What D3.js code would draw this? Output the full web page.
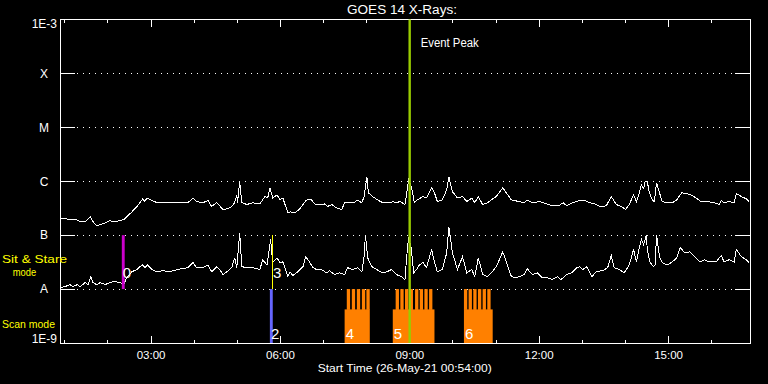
<!DOCTYPE html>
<html><head><meta charset="utf-8">
<script src="https://cdn.jsdelivr.net/npm/d3@7"></script>
<style>body{margin:0;background:#000}svg{display:block}</style>
</head><body><svg id="c" width="768" height="384"></svg>
<script>
// ---- DATA (times in minutes after 00:00 UT, 26-May-21; flux in W/m^2) ----
const startMin = 54, endMin = 1014;
const levelValues = [1e-9, 1e-8, 1e-7, 1e-6, 1e-5, 1e-4, 1e-3];
const levelLabels = ["1E-9", "A", "B", "C", "M", "X", "1E-3"];
const gridLevels = [1e-8, 1e-7, 1e-6, 1e-5, 1e-4];

const longSeries = [[54,2.1e-7],[68,1.94e-7],[75,2.0e-7],[82,1.78e-7],[89,1.78e-7],[96,2.2e-7],[98,1.94e-7],[101,1.70e-7],[105,1.50e-7],[110,1.56e-7],[117,1.70e-7],[123,1.86e-7],[130,1.78e-7],[137,1.86e-7],[143,1.94e-7],[147,2.2e-7],[154,2.7e-7],[161,3.4e-7],[165,4.0e-7],[169,4.7e-7],[172,4.2e-7],[175,4.9e-7],[182,4.4e-7],[189,4.0e-7],[197,4.0e-7],[207,4.0e-7],[217,4.0e-7],[225,4.0e-7],[232,4.0e-7],[239,4.9e-7],[244,4.2e-7],[253,4.0e-7],[260,4.4e-7],[265,3.4e-7],[272,4.0e-7],[276,3.5e-7],[281,3.0e-7],[288,3.1e-7],[293,3.4e-7],[297,4.0e-7],[300,5.6e-7],[301,4.0e-7],[304,9.8e-7],[307,4.0e-7],[314,3.7e-7],[322,4.0e-7],[332,3.8e-7],[339,5.2e-7],[343,4.9e-7],[346,7.6e-7],[350,4.9e-7],[356,5.6e-7],[360,4.5e-7],[364,4.9e-7],[371,2.6e-7],[374,2.7e-7],[381,2.6e-7],[388,3.1e-7],[395,4.2e-7],[399,4.7e-7],[404,4.5e-7],[408,3.8e-7],[415,3.7e-7],[422,3.8e-7],[426,3.4e-7],[432,3.7e-7],[439,3.2e-7],[446,3.0e-7],[450,4.0e-7],[457,4.0e-7],[464,4.0e-7],[467,4.5e-7],[474,4.0e-7],[477,5.2e-7],[481,1.21e-6],[483,6.1e-7],[489,5.2e-7],[496,4.5e-7],[503,4.0e-7],[513,4.0e-7],[517,4.2e-7],[522,4.0e-7],[527,4.2e-7],[534,3.7e-7],[536,5.6e-7],[539,1.07e-6],[543,7.9e-7],[547,4.0e-7],[551,4.5e-7],[559,5.2e-7],[564,4.9e-7],[571,7.6e-7],[575,6.1e-7],[579,4.2e-7],[586,4.5e-7],[592,7.0e-7],[595,1.21e-6],[600,6.4e-7],[607,4.9e-7],[614,5.2e-7],[620,4.2e-7],[627,4.9e-7],[631,4.0e-7],[636,5.2e-7],[642,3.7e-7],[649,4.0e-7],[654,4.5e-7],[661,5.2e-7],[670,7.6e-7],[675,6.1e-7],[682,4.5e-7],[693,4.2e-7],[700,4.0e-7],[704,4.5e-7],[711,4.0e-7],[721,4.2e-7],[731,3.8e-7],[739,3.5e-7],[748,3.5e-7],[754,4.0e-7],[759,3.5e-7],[767,4.0e-7],[777,4.4e-7],[784,4.4e-7],[791,4.0e-7],[798,3.8e-7],[805,3.4e-7],[814,3.5e-7],[821,5.2e-7],[828,3.7e-7],[835,3.4e-7],[841,3.0e-7],[846,3.7e-7],[852,5.6e-7],[856,4.2e-7],[860,6.1e-7],[863,8.6e-7],[866,7.3e-7],[868,9.8e-7],[871,1.0e-6],[874,6.1e-7],[878,4.5e-7],[881,4.2e-7],[884,9.4e-7],[888,6.1e-7],[892,4.2e-7],[899,4.0e-7],[906,4.0e-7],[912,4.5e-7],[919,6.1e-7],[925,5.9e-7],[932,5.6e-7],[939,4.9e-7],[946,4.2e-7],[955,4.2e-7],[964,4.0e-7],[971,3.7e-7],[974,4.4e-7],[978,4.0e-7],[985,4.2e-7],[992,4.0e-7],[995,5.9e-7],[1002,5.2e-7],[1009,4.7e-7],[1013,4.2e-7]];

const shortSeries = [[54,1.07e-8],[61,1.11e-8],[68,1.21e-8],[72,1.11e-8],[78,1.21e-8],[82,1.11e-8],[89,1.32e-8],[93,1.21e-8],[97,1.70e-8],[100,1.32e-8],[105,1.21e-8],[110,1.32e-8],[117,1.21e-8],[123,1.32e-8],[130,1.38e-8],[137,1.32e-8],[143,1.26e-8],[147,1.63e-8],[154,2.1e-8],[161,2.3e-8],[165,2.6e-8],[169,2.8e-8],[172,2.5e-8],[176,2.8e-8],[182,2.3e-8],[189,2.1e-8],[197,2.2e-8],[207,2.1e-8],[217,2.3e-8],[225,2.4e-8],[232,2.5e-8],[239,3.1e-8],[244,2.5e-8],[253,2.5e-8],[260,2.8e-8],[265,2.1e-8],[272,2.6e-8],[276,2.3e-8],[281,1.86e-8],[288,2.2e-8],[293,2.5e-8],[297,3.8e-8],[300,2.5e-8],[304,1.11e-7],[307,2.6e-8],[314,2.5e-8],[322,2.5e-8],[332,2.3e-8],[336,3.5e-8],[342,2.8e-8],[347,8.3e-8],[350,3.1e-8],[356,3.8e-8],[360,3.1e-8],[364,3.2e-8],[371,1.70e-8],[374,2.1e-8],[378,1.78e-8],[385,2.1e-8],[392,2.6e-8],[396,4.0e-8],[401,3.2e-8],[406,2.5e-8],[411,2.3e-8],[418,2.3e-8],[425,2.0e-8],[429,2.2e-8],[436,1.86e-8],[443,2.0e-8],[450,1.86e-8],[454,2.5e-8],[461,2.3e-8],[468,2.5e-8],[474,2.1e-8],[477,4.0e-8],[479,1.02e-7],[482,3.8e-8],[488,2.6e-8],[495,2.3e-8],[502,2.0e-8],[509,2.1e-8],[515,2.3e-8],[522,1.86e-8],[529,1.70e-8],[534,1.50e-8],[536,3.5e-8],[539,9.4e-8],[543,5.4e-8],[546,2.0e-8],[550,2.3e-8],[554,2.8e-8],[559,3.1e-8],[564,2.5e-8],[571,5.4e-8],[575,3.2e-8],[579,2.1e-8],[586,2.3e-8],[592,4.7e-8],[595,1.44e-7],[600,4.7e-8],[607,2.3e-8],[614,4.0e-8],[620,2.0e-8],[627,2.3e-8],[631,1.70e-8],[636,3.8e-8],[642,1.86e-8],[649,1.70e-8],[654,2.0e-8],[661,2.6e-8],[670,4.9e-8],[675,3.2e-8],[682,1.70e-8],[689,1.63e-8],[693,1.70e-8],[700,1.86e-8],[704,2.4e-8],[711,1.86e-8],[718,2.0e-8],[725,1.63e-8],[732,1.63e-8],[739,1.50e-8],[746,1.70e-8],[751,1.50e-8],[759,1.86e-8],[766,2.0e-8],[773,2.5e-8],[777,2.6e-8],[781,2.3e-8],[787,2.6e-8],[794,1.70e-8],[800,2.1e-8],[809,2.2e-8],[816,2.5e-8],[821,4.2e-8],[825,2.5e-8],[832,2.3e-8],[839,2.0e-8],[846,2.8e-8],[852,5.4e-8],[856,3.2e-8],[860,5.9e-8],[863,8.3e-8],[866,6.7e-8],[870,1.02e-7],[871,5.4e-8],[875,3.1e-8],[880,2.6e-8],[882,2.8e-8],[884,1.02e-7],[888,4.0e-8],[892,3.1e-8],[899,2.8e-8],[906,3.2e-8],[912,3.8e-8],[917,5.9e-8],[923,4.7e-8],[930,4.9e-8],[937,4.0e-8],[944,3.2e-8],[951,3.5e-8],[957,3.2e-8],[967,3.2e-8],[974,4.2e-8],[978,3.2e-8],[985,3.5e-8],[992,3.2e-8],[995,5.4e-8],[1002,4.0e-8],[1009,3.5e-8],[1013,3.1e-8]];

// Sit & stare observations (label, start, end minute)
const sitStareObs = [
  {label: "0", start: 140, end: 144, color: "#cc00cc"},
  {label: "3", start: 349, end: 349, color: "#ffff00"}
];
// Scan observations: base interval plus individual raster exposures (start minutes)
const scanObs = [
  {label: "2", start: 346, end: 350, color: "#6666ff", exposures: []},
  {label: "4", start: 450, end: 485, color: "#ff8000", exposures: [453, 460, 467, 474, 480.3]},
  {label: "5", start: 517, end: 575, color: "#ff8000", exposures: [521, 527.5, 534, 540.5, 548, 554.5, 561, 567.5]},
  {label: "6", start: 616, end: 656, color: "#ff8000", exposures: [616, 622.5, 629, 635.5, 642, 648.5]}
];
const exposureLength = 4.6;
const scanBaseTop = 4.2e-9;
const eventPeakMin = 540.5;
const titleText = "GOES 14 X-Rays:";
const xTitleText = "Start Time (26-May-21 00:54:00)";

// ---- CHART ----
const base = new Date(2021, 4, 26, 0, 0).getTime();
const t = m => new Date(base + m * 60000);
const svg = d3.select("#c");
const L = 60, R = 750, T = 19.5, B = 343;
const x = d3.scaleTime().domain([t(startMin), t(endMin)]).range([L, R]);
const y = d3.scaleLog().domain([1e-9, 1e-3]).range([B, T]);
const font = "'Liberation Sans', Arial, sans-serif";

svg.append("rect").attr("width", 768).attr("height", 384).attr("fill", "#000");

// grid lines
const g = svg.append("g").attr("shape-rendering", "crispEdges");
gridLevels.forEach(v => {
  const yy = Math.round(y(v)) + 0.5;
  g.append("line").attr("x1", L).attr("x2", L + 15).attr("y1", yy).attr("y2", yy).attr("stroke", "#fff");
  g.append("line").attr("x1", R - 15).attr("x2", R).attr("y1", yy).attr("y2", yy).attr("stroke", "#fff");
  g.append("line").attr("x1", L + 17).attr("x2", R - 15).attr("y1", yy).attr("y2", yy)
    .attr("stroke", "#fff").attr("stroke-dasharray", "1,5");
});

// frame
svg.append("rect").attr("x", L + 0.5).attr("y", T).attr("width", R - L).attr("height", B - T)
  .attr("fill", "none").attr("stroke", "#fff").attr("shape-rendering", "crispEdges");

// time axes
function axisGroup(axis, yy) {
  const a = svg.append("g").attr("transform", `translate(0,${yy})`).call(axis);
  a.select(".domain").remove();
  a.selectAll("line").attr("stroke", "#fff").attr("shape-rendering", "crispEdges");
  a.selectAll("text").attr("fill", "#fff").attr("font-family", font).attr("font-size", 11.5);
  return a;
}
axisGroup(d3.axisTop(x).ticks(d3.timeHour.every(1)).tickSize(-3.5).tickFormat(""), T);
axisGroup(d3.axisTop(x).ticks(d3.timeHour.every(3)).tickSize(-7).tickFormat(""), T);
axisGroup(d3.axisBottom(x).ticks(d3.timeHour.every(1)).tickSize(-3.5).tickFormat(""), B);
axisGroup(d3.axisBottom(x).ticks(d3.timeHour.every(3)).tickSize(-7).tickPadding(7.5).tickFormat(d3.timeFormat("%H:%M")), B);

// y labels
levelValues.forEach((v, i) => {
  const yy = y(v);
  const txt = svg.append("text").attr("fill", "#fff").attr("font-family", font).attr("font-size", 12).text(levelLabels[i]);
  if (i === 0) txt.attr("x", 57).attr("y", yy).attr("text-anchor", "end");
  else if (i === levelValues.length - 1) txt.attr("x", 57).attr("y", yy + 8).attr("text-anchor", "end");
  else txt.attr("x", 44).attr("y", yy + 4.3).attr("text-anchor", "middle");
});

// curves
const line = d3.line().x(d => x(t(d[0]))).y(d => y(d[1]));
[longSeries, shortSeries].forEach(s => {
  svg.append("path").datum(s).attr("d", line).attr("fill", "none").attr("stroke", "#fff")
    .attr("stroke-width", 1).attr("shape-rendering", "crispEdges");
});

// sit & stare bars
sitStareObs.forEach(o => {
  const x0 = x(t(o.start)), x1 = x(t(o.end));
  if (o.end > o.start) {
    svg.append("rect").attr("x", x0).attr("width", x1 - x0).attr("y", y(1e-7)).attr("height", y(1e-8) - y(1e-7)).attr("fill", o.color);
  } else {
    svg.append("line").attr("x1", Math.round(x0) + 0.5).attr("x2", Math.round(x0) + 0.5).attr("y1", y(1e-7)).attr("y2", y(1e-8))
      .attr("stroke", o.color).attr("shape-rendering", "crispEdges");
  }
});
// scan bars
scanObs.forEach(o => {
  const x0 = x(t(o.start)), x1 = x(t(o.end));
  if (o.exposures.length === 0) {
    svg.append("rect").attr("x", x0).attr("width", x1 - x0).attr("y", y(1e-8)).attr("height", y(1e-9) - y(1e-8)).attr("fill", o.color);
  } else {
    svg.append("rect").attr("x", x0).attr("width", x1 - x0).attr("y", y(scanBaseTop)).attr("height", y(1e-9) - y(scanBaseTop)).attr("fill", o.color);
    o.exposures.forEach(e => {
      const e0 = x(t(e)), e1 = x(t(e + exposureLength));
      svg.append("rect").attr("x", e0).attr("width", e1 - e0).attr("y", y(1e-8)).attr("height", y(scanBaseTop) - y(1e-8) + 0.5).attr("fill", o.color);
    });
  }
});
// obs labels
sitStareObs.forEach(o => {
  svg.append("text").attr("x", x(t(o.start)) + 1).attr("y", 278).attr("fill", "#fff")
    .attr("font-family", font).attr("font-size", 15).text(o.label);
});
scanObs.forEach(o => {
  svg.append("text").attr("x", x(t(o.start)) + 1).attr("y", 339).attr("fill", "#fff")
    .attr("font-family", font).attr("font-size", 15).text(o.label);
});

// event peak line
const px = x(t(eventPeakMin));
svg.append("rect").attr("x", px - 1.2).attr("width", 2.4).attr("y", T).attr("height", B - T).attr("fill", "#99cc00");
svg.append("text").attr("x", px + 11).attr("y", 47).attr("fill", "#fff").attr("font-family", font).attr("font-size", 12)
  .attr("textLength", 58).attr("lengthAdjust", "spacingAndGlyphs").text("Event Peak");

// titles
svg.append("text").attr("x", 402).attr("y", 14).attr("text-anchor", "middle").attr("fill", "#fff")
  .attr("font-family", font).attr("font-size", 12.5).attr("textLength", 110).attr("lengthAdjust", "spacingAndGlyphs").text(titleText);
svg.append("text").attr("x", 404.7).attr("y", 372).attr("text-anchor", "middle").attr("fill", "#fff")
  .attr("font-family", font).attr("font-size", 11.5).attr("textLength", 174).attr("lengthAdjust", "spacingAndGlyphs").text(xTitleText);

// mode legend
const yel = "#ffff00";
svg.append("text").attr("x", 2).attr("y", 262.5).attr("fill", yel).attr("font-family", font).attr("font-size", 11.5)
  .attr("textLength", 65).attr("lengthAdjust", "spacingAndGlyphs").text("Sit & Stare");
svg.append("text").attr("x", 12.7).attr("y", 275.5).attr("fill", yel).attr("font-family", font).attr("font-size", 11.5)
  .attr("textLength", 23.5).attr("lengthAdjust", "spacingAndGlyphs").text("mode");
svg.append("text").attr("x", 2).attr("y", 328).attr("fill", yel).attr("font-family", font).attr("font-size", 11.5)
  .attr("textLength", 53).attr("lengthAdjust", "spacingAndGlyphs").text("Scan mode");
</script></body></html>
